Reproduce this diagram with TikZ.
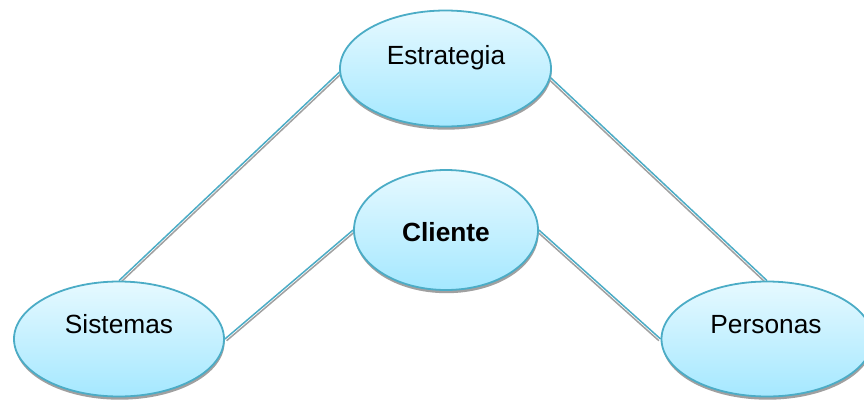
\documentclass[tikz,border=0pt]{standalone}
\usepackage{fontspec}
\setmainfont{Liberation Sans}
\usetikzlibrary{shapes.geometric,shadows}
\definecolor{edgeteal}{HTML}{4BACC6}
\definecolor{shade}{HTML}{A0A0A0}
\definecolor{topfill}{HTML}{E6F9FF}
\definecolor{botfill}{HTML}{A5E8FF}
\pgfdeclarelayer{links}
\pgfsetlayers{links,main}
\tikzset{
  x=1pt,y=-1pt,
  oval/.style={ellipse,draw=edgeteal,line width=1.8pt,top color=topfill,bottom color=botfill,
    inner sep=0pt,
    drop shadow={shadow xshift=0.6pt,shadow yshift=-3.2pt,fill=shade,opacity=1,shadow scale=1}},
  ovaltext/.style={font=\fontsize{26.3}{30}\selectfont},
  linkteal/.style={draw=edgeteal,line width=1.5pt},
  linkgrey/.style={draw=shade,line width=1.5pt},
  sl/.style={shift={(1.7pt,-1.7pt)}},
  sr/.style={shift={(-1.7pt,-1.7pt)}},
}
\begin{document}
\begin{tikzpicture}
\useasboundingbox (0,0) rectangle (864,400);
\clip (0,0) rectangle (864,400);
\node[oval,minimum width=211pt,minimum height=116pt] (estrategia) at (445.5,68.5) {};
\node[oval,minimum width=184pt,minimum height=120pt] (cliente) at (446,230) {};
\node[oval,minimum width=210pt,minimum height=115pt] (sistemas) at (119,339) {};
\node[oval,minimum width=211pt,minimum height=115pt] (personas) at (767,339) {};
\node[ovaltext] (t1) at (446,57.5) {Estrategia};
\node[ovaltext,font=\fontsize{26.3}{30}\selectfont\bfseries] (t2) at (446,232.5) {Cliente};
\node[ovaltext] (t3) at (119,324.5) {Sistemas};
\node[ovaltext] (t4) at (766,324.5) {Personas};
\begin{pgfonlayer}{links}
  \draw[linkgrey] ([sl]estrategia.182) -- ([sl]sistemas.north);
  \draw[linkteal] (estrategia.182) -- (sistemas.north);
  \draw[linkgrey] ([sl]cliente.west) -- ([sl]sistemas.east);
  \draw[linkteal] (cliente.west) -- (sistemas.east);
  \draw[linkgrey] ([sr]estrategia.-5) -- ([sr]personas.north);
  \draw[linkteal] (estrategia.-5) -- (personas.north);
  \draw[linkgrey] ([sr]cliente.east) -- ([sr]personas.west);
  \draw[linkteal] (cliente.east) -- (personas.west);
\end{pgfonlayer}
\end{tikzpicture}
\end{document}
